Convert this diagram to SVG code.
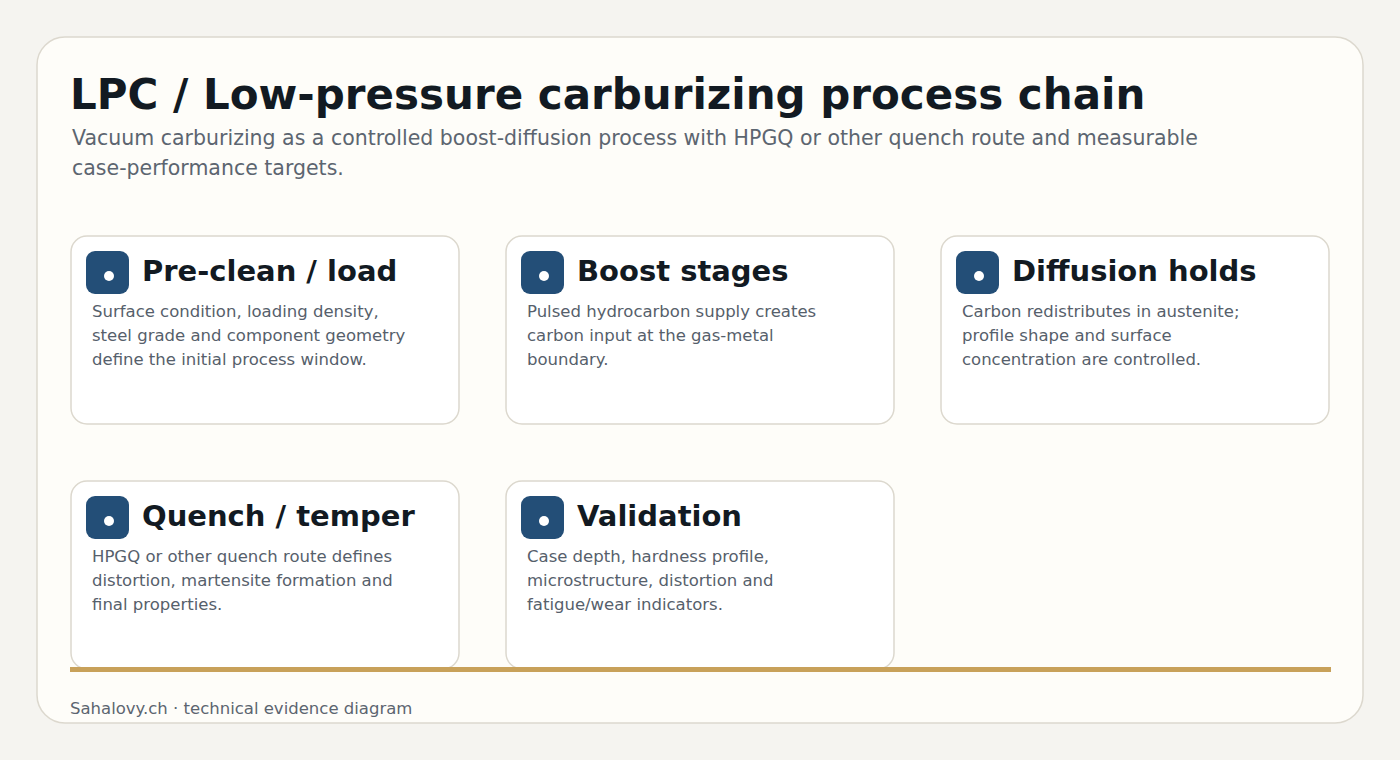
<svg xmlns="http://www.w3.org/2000/svg" width="1400" height="760" viewBox="0 0 1400 760">
<style>
text{font-family:"DejaVu Sans",sans-serif}
.card{fill:#ffffff;stroke:#dcd8ce;stroke-width:1.5}
.ic{fill:#234e77}
.dot{fill:#ffffff}
.h{font-size:29px;font-weight:bold;fill:#121a22}
.b{font-size:16.5px;fill:#56606b}
</style>
<rect width="1400" height="760" fill="#f5f4f0"/>
<rect x="37" y="37" width="1326" height="686" rx="28" fill="#fefdf9" stroke="#dcd8ce" stroke-width="1.5"/>
<text x="70" y="109" font-size="42" font-weight="bold" fill="#121a22">LPC / Low-pressure carburizing process chain</text>
<text x="72" y="145" font-size="20.5" fill="#5c6570">Vacuum carburizing as a controlled boost-diffusion process with HPGQ or other quench route and measurable</text>
<text x="72" y="175" font-size="20.5" fill="#5c6570">case-performance targets.</text>
<g id="node1"><rect class="card" x="71" y="236" width="388" height="188" rx="16"/><rect class="ic" x="86" y="251" width="43" height="43" rx="9"/><circle class="dot" cx="109" cy="276" r="5"/><text class="h" x="142" y="281">Pre-clean / load</text><text class="b" x="92" y="317">Surface condition, loading density,</text><text class="b" x="92" y="341">steel grade and component geometry</text><text class="b" x="92" y="365">define the initial process window.</text></g>
<g id="node2"><rect class="card" x="506" y="236" width="388" height="188" rx="16"/><rect class="ic" x="521" y="251" width="43" height="43" rx="9"/><circle class="dot" cx="544" cy="276" r="5"/><text class="h" x="577" y="281">Boost stages</text><text class="b" x="527" y="317">Pulsed hydrocarbon supply creates</text><text class="b" x="527" y="341">carbon input at the gas-metal</text><text class="b" x="527" y="365">boundary.</text></g>
<g id="node3"><rect class="card" x="941" y="236" width="388" height="188" rx="16"/><rect class="ic" x="956" y="251" width="43" height="43" rx="9"/><circle class="dot" cx="979" cy="276" r="5"/><text class="h" x="1012" y="281">Diffusion holds</text><text class="b" x="962" y="317">Carbon redistributes in austenite;</text><text class="b" x="962" y="341">profile shape and surface</text><text class="b" x="962" y="365">concentration are controlled.</text></g>
<g id="node4"><rect class="card" x="71" y="481" width="388" height="188" rx="16"/><rect class="ic" x="86" y="496" width="43" height="43" rx="9"/><circle class="dot" cx="109" cy="521" r="5"/><text class="h" x="142" y="526">Quench / temper</text><text class="b" x="92" y="562">HPGQ or other quench route defines</text><text class="b" x="92" y="586">distortion, martensite formation and</text><text class="b" x="92" y="610">final properties.</text></g>
<g id="node5"><rect class="card" x="506" y="481" width="388" height="188" rx="16"/><rect class="ic" x="521" y="496" width="43" height="43" rx="9"/><circle class="dot" cx="544" cy="521" r="5"/><text class="h" x="577" y="526">Validation</text><text class="b" x="527" y="562">Case depth, hardness profile,</text><text class="b" x="527" y="586">microstructure, distortion and</text><text class="b" x="527" y="610">fatigue/wear indicators.</text></g>
<g id="connectors"></g>
<rect x="70" y="667" width="1261" height="5" fill="#c8a15a"/>
<text x="70" y="714" font-size="16.5" fill="#5c6570">Sahalovy.ch · technical evidence diagram</text>
</svg>
